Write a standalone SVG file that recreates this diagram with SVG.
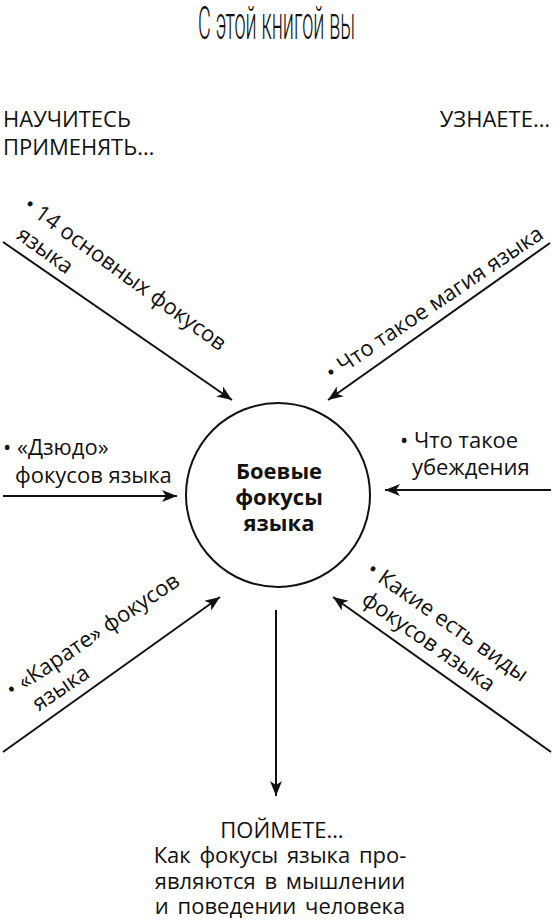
<svg xmlns="http://www.w3.org/2000/svg" width="554" height="924" viewBox="0 0 554 924">
<style>
.t{font-family:"Open Sans","Noto Sans","Liberation Sans",sans-serif;font-size:22px;fill:#111}
.c{font-family:"Open Sans","Noto Sans","Liberation Sans",sans-serif;font-size:22px;font-weight:bold;fill:#111}
.h{font-family:Roboto,"DejaVu Sans","Liberation Sans",sans-serif;font-size:47px;font-weight:300;fill:#111}
.ln{stroke:#111;stroke-width:2;fill:none;marker-end:url(#ah)}
</style>
<defs>
<marker id="ah" markerUnits="userSpaceOnUse" markerWidth="20" markerHeight="14" viewBox="-16 -7 18 14" refX="0" refY="0" orient="auto">
<path d="M0,0 L-15,-6 L-11,0 L-15,6 Z" fill="#111"/>
</marker>
</defs>
<g id="title" transform="translate(198,39) scale(0.42,1)">
<text class="h" x="0" y="0" textLength="374" lengthAdjust="spacingAndGlyphs">С этой книгой вы</text>
</g>
<g id="headers">
<text class="t" x="3" y="127">НАУЧИТЕСЬ</text>
<text class="t" x="3" y="155">ПРИМЕНЯТЬ…</text>
<text class="t" x="550" y="127" text-anchor="end">УЗНАЕТЕ…</text>
</g>
<g id="connectors">
<line class="ln" x1="3" y1="242" x2="232" y2="400"/>
<line class="ln" x1="550" y1="243" x2="328" y2="400"/>
<line class="ln" x1="3" y1="496" x2="177" y2="496"/>
<line class="ln" x1="551" y1="490" x2="385" y2="490"/>
<line class="ln" x1="3" y1="752" x2="220" y2="597"/>
<line class="ln" x1="551" y1="752" x2="333" y2="597"/>
<line class="ln" x1="276" y1="610" x2="276" y2="796"/>
</g>
<g id="center">
<circle cx="278" cy="495" r="92" fill="none" stroke="#111" stroke-width="2"/>
<text class="c" text-anchor="middle"><tspan x="279" y="479">Боевые</tspan><tspan x="279" y="505">фокусы</tspan><tspan x="279" y="531">языка</tspan></text>
</g>
<g id="n-top-left" transform="translate(22,208) rotate(36)">
<text class="t"><tspan x="0" y="0">• 14 основных фокусов</tspan><tspan x="12" y="28">языка</tspan></text>
</g>
<g id="n-top-right" transform="translate(332,381) rotate(-34)">
<text class="t"><tspan x="0" y="0">• Что такое магия языка</tspan></text>
</g>
<g id="n-left">
<text class="t"><tspan x="3" y="455">• «Дзюдо»</tspan><tspan x="15" y="483">фокусов языка</tspan></text>
</g>
<g id="n-right">
<text class="t"><tspan x="400" y="448">• Что такое</tspan><tspan x="412" y="475">убеждения</tspan></text>
</g>
<g id="n-bottom-left" transform="translate(12.6,698) rotate(-34)">
<text class="t"><tspan x="0" y="0">• «Карате» фокусов</tspan><tspan x="14" y="26">языка</tspan></text>
</g>
<g id="n-bottom-right" transform="translate(365,573) rotate(35)">
<text class="t"><tspan x="0" y="0">• Какие есть виды</tspan><tspan x="13" y="27">фокусов языка</tspan></text>
</g>
<g id="n-bottom">
<text class="t" text-anchor="middle" style="font-size:22px;word-spacing:3px"><tspan x="282" y="838">ПОЙМЕТЕ…</tspan><tspan x="280" y="863">Как фокусы языка про-</tspan><tspan x="280" y="889">являются в мышлении</tspan><tspan x="280" y="914">и поведении человека</tspan></text>
</g>
</svg>
